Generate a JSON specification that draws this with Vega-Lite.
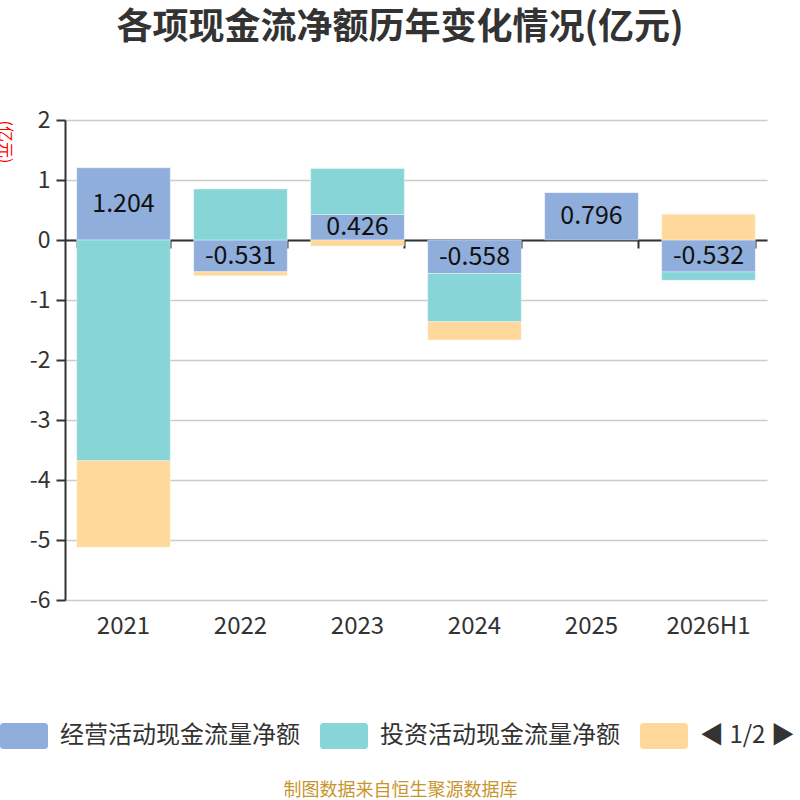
{
  "$schema": "https://vega.github.io/schema/vega-lite/v6.json",
  "autosize": "none",
  "width": 702,
  "height": 480,
  "padding": {"left": 65, "top": 120, "right": 33, "bottom": 200},
  "background": "white",
  "title": {
    "text": "各项现金流净额历年变化情况(亿元)",
    "font": "Noto Sans CJK SC",
    "fontSize": 36,
    "fontWeight": "bold",
    "color": "#333333",
    "anchor": "middle",
    "dx": -16,
    "offset": 26,
    "baseline": "bottom"
  },
  "data": {
    "values": [
      {"year": "2021", "type": "经营活动现金流量净额", "k": 1, "value": 1.204},
      {"year": "2021", "type": "投资活动现金流量净额", "k": 2, "value": -3.68},
      {"year": "2021", "type": "筹资活动现金流量净额", "k": 3, "value": -1.44},
      {"year": "2022", "type": "经营活动现金流量净额", "k": 1, "value": -0.531},
      {"year": "2022", "type": "投资活动现金流量净额", "k": 2, "value": 0.85},
      {"year": "2022", "type": "筹资活动现金流量净额", "k": 3, "value": -0.064},
      {"year": "2023", "type": "经营活动现金流量净额", "k": 1, "value": 0.426},
      {"year": "2023", "type": "投资活动现金流量净额", "k": 2, "value": 0.766},
      {"year": "2023", "type": "筹资活动现金流量净额", "k": 3, "value": -0.1},
      {"year": "2024", "type": "经营活动现金流量净额", "k": 1, "value": -0.558},
      {"year": "2024", "type": "投资活动现金流量净额", "k": 2, "value": -0.805},
      {"year": "2024", "type": "筹资活动现金流量净额", "k": 3, "value": -0.305},
      {"year": "2025", "type": "经营活动现金流量净额", "k": 1, "value": 0.796},
      {"year": "2025", "type": "投资活动现金流量净额", "k": 2, "value": 0},
      {"year": "2025", "type": "筹资活动现金流量净额", "k": 3, "value": 0},
      {"year": "2026H1", "type": "经营活动现金流量净额", "k": 1, "value": -0.532},
      {"year": "2026H1", "type": "投资活动现金流量净额", "k": 2, "value": -0.14},
      {"year": "2026H1", "type": "筹资活动现金流量净额", "k": 3, "value": 0.428}
    ]
  },
  "transform": [
    {"stack": "value", "groupby": ["year"], "sort": [{"field": "k", "order": "ascending"}], "as": ["v0", "v1"]}
  ],
  "layer": [
    {
      "mark": {"type": "bar", "stroke": "#ffffff", "strokeWidth": 0.6, "strokeOpacity": 0.6},
      "encoding": {
        "x": {
          "field": "year",
          "type": "nominal",
          "sort": null,
          "scale": {"paddingInner": 0.2, "paddingOuter": 0.1},
          "axis": {
            "orient": "bottom",
            "offset": -360,
            "labels": false,
            "title": null,
            "ticks": true,
            "tickBand": "extent",
            "tickSize": 8,
            "tickWidth": 2,
            "tickColor": "#333333",
            "domain": true,
            "domainWidth": 2,
            "domainColor": "#333333",
            "grid": false
          }
        },
        "y": {
          "field": "v0",
          "type": "quantitative",
          "scale": {"domain": [-6, 2], "nice": false},
          "axis": {
            "title": "(亿元)",
            "values": [-6, -5, -4, -3, -2, -1, 0, 1, 2],
            "labelExpr": "'' + datum.value",
            "labelFont": "Noto Sans CJK SC",
            "labelFontSize": 23,
            "labelColor": "#333333",
            "labelPadding": 6,
            "tickSize": 9,
            "tickWidth": 2,
            "tickColor": "#333333",
            "domainColor": "#333333",
            "domainWidth": 2,
            "grid": true,
            "gridColor": "#cccccc",
            "gridWidth": 1.5,
            "titleColor": "#ff0000",
            "titleFont": "Noto Sans CJK SC",
            "titleFontSize": 16,
            "titleFontWeight": "normal",
            "titleAngle": 90,
            "titleAlign": "left",
            "titleBaseline": "middle",
            "titleX": -61,
            "titleY": 0
          }
        },
        "y2": {"field": "v1"},
        "order": {"field": "k"},
        "color": {
          "field": "type",
          "type": "nominal",
          "scale": {
            "domain": ["经营活动现金流量净额", "投资活动现金流量净额", "筹资活动现金流量净额"],
            "range": ["#8faedb", "#88d5d8", "#fed99b"]
          },
          "legend": {
            "title": null,
            "orient": "none",
            "legendX": -65,
            "legendY": 592,
            "direction": "horizontal",
            "columns": 3,
            "columnPadding": 20,
            "padding": 0,
            "symbolType": "M-1,-0.39 Q-1,-0.54 -0.85,-0.54 L0.85,-0.54 Q1,-0.54 1,-0.39 L1,0.39 Q1,0.54 0.85,0.54 L-0.85,0.54 Q-1,0.54 -1,0.39 Z",
            "symbolSize": 2304,
            "symbolStrokeWidth": 0,
            "symbolOpacity": 1,
            "labelOffset": 12,
            "labelFont": "Noto Sans CJK SC",
            "labelFontSize": 24,
            "labelColor": "#333333",
            "labelLimit": 300,
            "labelExpr": "datum.label == '筹资活动现金流量净额' ? '◀ 1/2 ▶' : datum.label"
          }
        }
      }
    },
    {
      "transform": [
        {"filter": "datum.k == 1"},
        {"calculate": "(datum.v0 + datum.v1) / 2", "as": "mid"}
      ],
      "mark": {"type": "text", "font": "Noto Sans CJK SC", "fontSize": 25, "color": "#111111", "baseline": "middle"},
      "encoding": {
        "x": {
          "field": "year",
          "type": "nominal",
          "sort": null,
          "axis": {
            "orient": "bottom",
            "labels": true,
            "labelAngle": 0,
            "labelFont": "Noto Sans CJK SC",
            "labelFontSize": 24,
            "labelColor": "#333333",
            "labelPadding": 14,
            "ticks": false,
            "domain": false,
            "grid": false,
            "title": "制图数据来自恒生聚源数据库",
            "titleFont": "Noto Sans CJK SC",
            "titleFontSize": 18,
            "titleFontWeight": "normal",
            "titleColor": "#c8952d",
            "titleX": 335,
            "titleY": 190,
            "titleBaseline": "middle",
            "titleAlign": "center"
          }
        },
        "y": {"field": "mid", "type": "quantitative", "scale": {"domain": [-6, 2], "nice": false}, "axis": null},
        "text": {"field": "value", "type": "nominal"}
      }
    }
  ],
  "resolve": {"axis": {"x": "independent", "y": "independent"}},
  "config": {"view": {"stroke": null}}
}
